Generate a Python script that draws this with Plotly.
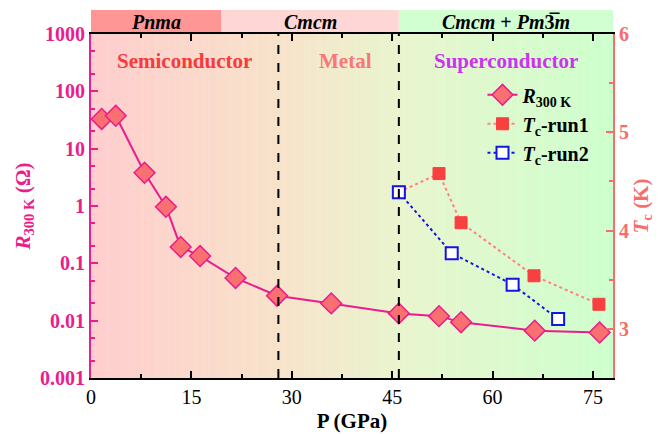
import plotly.graph_objects as go

# ---------------- data ----------------
p_r300 = [1.6, 3.7, 8.0, 11.2, 13.4, 16.3, 21.6, 27.8, 35.9, 46.0, 52.0, 55.3, 66.3, 76.0]
r300 = [33, 37.5, 3.8, 0.97, 0.193, 0.134, 0.0555, 0.0272, 0.020, 0.0134, 0.012, 0.0094, 0.0067, 0.0062]

p_run1 = [46.0, 52.0, 55.3, 66.2, 75.9]
tc_run1 = [4.39, 4.58, 4.08, 3.54, 3.25]

p_run2 = [46.0, 53.9, 63.0, 69.8]
tc_run2 = [4.39, 3.77, 3.45, 3.10]

phase_bounds = [0, 19.5, 46, 78]
phase_names = ["<i>Pnma</i>", "<i>Cmcm</i>", "<i>Cmcm</i> + <i>Pm</i>3\u0305<i>m</i>"]
region_labels = ["Semiconductor", "Metal", "Superconductor"]
region_x = [14, 38, 62]
divider_p = [28, 46]

left_ticks = [0.001, 0.01, 0.1, 1, 10, 100, 1000]
left_ticktext = ["0.001", "0.01", "0.1", "1", "10", "100", "1000"]
x_ticks = [0, 15, 30, 45, 60, 75]
right_ticks = [3, 4, 5, 6]

# ---------------- styles ----------------
FONT = "Liberation Serif"
PINK = "#EC1C8C"
SALMON = "#F86C6C"
XMAX = 78

fig = go.Figure()

# gradient background
stops = [(0.0, (255, 205, 205)), (0.35, (248, 226, 202)), (0.6, (233, 245, 206)), (1.0, (205, 255, 205))]
def col(t):
    for (t0, c0), (t1, c1) in zip(stops[:-1], stops[1:]):
        if t0 <= t <= t1:
            f = (t - t0) / (t1 - t0)
            return "rgb(%d,%d,%d)" % tuple(round(a + (b - a) * f) for a, b in zip(c0, c1))
    return "rgb(%d,%d,%d)" % stops[-1][1]

N = 120
shapes = []
for i in range(N):
    x0 = XMAX * i / N
    x1 = XMAX * (i + 1) / N
    shapes.append(dict(type="rect", xref="x", yref="paper", x0=x0, x1=x1 + 0.05, y0=0, y1=1,
                       fillcolor=col((i + 0.5) / N), line=dict(width=0), layer="below"))

# top phase band
band_cols = ["#FF9696", "#FFD6D6", "#D2FFD2"]
band_h = 24 / 344
for i in range(3):
    shapes.append(dict(type="rect", xref="x", yref="paper", x0=phase_bounds[i], x1=phase_bounds[i + 1] + (0.3 if i == 2 else 0),
                       y0=1, y1=1 + band_h, fillcolor=band_cols[i], line=dict(width=0), layer="below"))

# dashed dividers
for xv in divider_p:
    shapes.append(dict(type="line", xref="x", yref="paper", x0=xv, x1=xv, y0=0, y1=1,
                       line=dict(color="black", width=2, dash="dash"), layer="above"))

annotations = []
for i, name in enumerate(phase_names):
    annotations.append(dict(x=(phase_bounds[i] + phase_bounds[i + 1]) / 2, y=1 + band_h / 2, xref="x", yref="paper",
                            text="<b>%s</b>" % name, showarrow=False, yanchor="middle",
                            font=dict(family=FONT, size=20, color="black")))
reg_cols = ["#F83A3A", "#F87878", "#CC33EE"]
for i, lab in enumerate(region_labels):
    annotations.append(dict(x=region_x[i], y=1 - 27 / 344, xref="x", yref="paper", text="<b>%s</b>" % lab,
                            showarrow=False, yanchor="middle", font=dict(family=FONT, size=21, color=reg_cols[i])))

# traces
fig.add_trace(go.Scatter(x=p_r300, y=r300, mode="lines+markers", name="<b><i>R</i><sub>300 K</sub></b>",
                         line=dict(color=PINK, width=2),
                         marker=dict(symbol="diamond", size=16, color="#F87070", line=dict(color=PINK, width=1.5))))
fig.add_trace(go.Scatter(x=p_run1, y=tc_run1, mode="lines+markers", name="<b><i>T</i><sub>c</sub>-run1</b>", yaxis="y2",
                         line=dict(color="#FF8080", width=2, dash="dot"),
                         marker=dict(symbol="square", size=12, color="#F84040", line=dict(color="#F84040", width=1))))
fig.add_trace(go.Scatter(x=p_run2, y=tc_run2, mode="lines+markers", name="<b><i>T</i><sub>c</sub>-run2</b>", yaxis="y2",
                         line=dict(color="#1515E0", width=2, dash="dot"),
                         marker=dict(symbol="square", size=12, color="white", line=dict(color="#1515E0", width=2))))

fig.update_layout(
    width=660, height=434,
    margin=dict(l=91, r=47, t=34, b=56),
    paper_bgcolor="white", plot_bgcolor="white",
    font=dict(family=FONT, size=18),
    shapes=shapes, annotations=annotations,
    showlegend=True,
    legend=dict(x=0.75, y=0.88, xanchor="left", yanchor="top", bgcolor="rgba(0,0,0,0)",
                font=dict(family=FONT, size=20, color="black"), tracegroupgap=0, itemwidth=30),
    xaxis=dict(range=[0, XMAX], tickvals=x_ticks, ticks="inside", ticklen=7, tickwidth=2, tickcolor="black",
               showline=True, linecolor="black", linewidth=2, mirror="ticks", showgrid=False, zeroline=False,
               automargin=False,
               minor=dict(dtick=7.5, ticks="inside", ticklen=4, tickwidth=1.5, tickcolor="black"),
               tickfont=dict(family=FONT, size=20, color="black"),
               title=dict(text="<b>P (GPa)</b>", font=dict(family=FONT, size=21, color="black"), standoff=6)),
    yaxis=dict(type="log", range=[-3, 3], tickvals=left_ticks, ticktext=["<b>%s</b>" % t for t in left_ticktext],
               ticks="inside", ticklen=7, tickwidth=2, tickcolor=PINK,
               showline=True, linecolor=PINK, linewidth=2, showgrid=False, zeroline=False, automargin=False,
               minor=dict(ticks="inside", ticklen=4, tickwidth=1.5, tickcolor=PINK, showgrid=False),
               tickfont=dict(family=FONT, size=20, color=PINK),
               title=dict(text="<b><i>R</i><sub>300 K</sub> (Ω)</b>", font=dict(family=FONT, size=21, color=PINK), standoff=4)),
    yaxis2=dict(overlaying="y", side="right", range=[2.5, 6], tickvals=right_ticks,
                ticktext=["<b>%d</b>" % t for t in right_ticks],
                ticks="inside", ticklen=7, tickwidth=2, tickcolor=SALMON,
                showline=True, linecolor=SALMON, linewidth=2, showgrid=False, zeroline=False, automargin=False,
                minor=dict(dtick=0.5, ticks="inside", ticklen=4, tickwidth=1.5, tickcolor=SALMON),
                tickfont=dict(family=FONT, size=20, color=SALMON),
                title=dict(text="<b><i>T</i><sub>c</sub> (K)</b>", font=dict(family=FONT, size=21, color=SALMON), standoff=4)),
)

fig.write_html("out.html")
